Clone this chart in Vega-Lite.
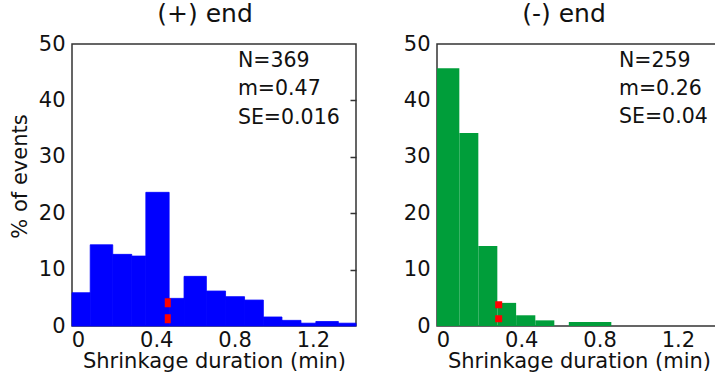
{
  "$schema": "https://vega.github.io/schema/vega-lite/v6.json",
  "background": "white",
  "padding": {"left": 8, "top": 1, "right": 0, "bottom": 0},
  "spacing": 44,
  "config": {
    "font": "DejaVu Sans",
    "view": {"stroke": "#333", "strokeWidth": 1.5},
    "axis": {"domain": false, "grid": false, "labelFontSize": 21, "labelColor": "#111", "titleFontSize": 21, "titleFontWeight": "normal", "titleColor": "#111", "tickColor": "#333", "tickWidth": 1.5},
    "title": {"fontSize": 25, "fontWeight": "normal", "color": "#111"}
  },
  "datasets": {
    "plus": [
      {"start": -0.03, "end": 0.063, "pct": 5.9},
      {"start": 0.063, "end": 0.178, "pct": 14.4},
      {"start": 0.178, "end": 0.275, "pct": 12.7},
      {"start": 0.275, "end": 0.347, "pct": 12.4},
      {"start": 0.347, "end": 0.466, "pct": 23.7},
      {"start": 0.466, "end": 0.542, "pct": 4.9},
      {"start": 0.542, "end": 0.656, "pct": 8.8},
      {"start": 0.656, "end": 0.754, "pct": 6.2},
      {"start": 0.754, "end": 0.851, "pct": 5.2},
      {"start": 0.851, "end": 0.947, "pct": 4.6},
      {"start": 0.947, "end": 1.042, "pct": 1.6},
      {"start": 1.042, "end": 1.139, "pct": 1.0},
      {"start": 1.139, "end": 1.215, "pct": 0.5},
      {"start": 1.215, "end": 1.33, "pct": 0.8},
      {"start": 1.33, "end": 1.42, "pct": 0.5}
    ],
    "minus": [
      {"start": -0.03, "end": 0.084, "pct": 45.7},
      {"start": 0.084, "end": 0.181, "pct": 34.2},
      {"start": 0.181, "end": 0.278, "pct": 14.2},
      {"start": 0.278, "end": 0.374, "pct": 4.1},
      {"start": 0.374, "end": 0.472, "pct": 1.9},
      {"start": 0.472, "end": 0.569, "pct": 1.0},
      {"start": 0.643, "end": 0.86, "pct": 0.7}
    ]
  },
  "hconcat": [
    {
      "width": 284,
      "height": 282,
      "title": {"text": "(+) end", "dx": -9, "offset": 6},
      "resolve": {"axis": {"y": "independent"}},
      "layer": [
        {
          "data": {"name": "plus"},
          "mark": {"type": "rect", "color": "#0000ff", "stroke": "#0000ff", "strokeWidth": 0.8},
          "encoding": {
            "x": {"field": "start", "type": "quantitative", "scale": {"domain": [-0.03, 1.42], "nice": false, "zero": false},
                  "axis": {"values": [0, 0.4, 0.8, 1.2], "format": "~g", "ticks": false, "labelPadding": 3, "title": "Shrinkage duration (min)", "titlePadding": 0}},
            "x2": {"field": "end"},
            "y": {"field": "pct", "type": "quantitative", "scale": {"domain": [0, 50], "nice": false},
                  "axis": {"values": [0, 10, 20, 30, 40, 50], "ticks": false, "labelPadding": 7, "title": "% of events", "titlePadding": 8, "titleY": 132}},
            "y2": {"datum": 0}
          }
        },
        {
          "data": {"values": [{"mean": 0.459, "top": 4.9, "bottom": 0.3}]},
          "mark": {"type": "rule", "color": "#ff0000", "strokeWidth": 6, "strokeDash": [9, 7]},
          "encoding": {
            "x": {"field": "mean", "type": "quantitative"},
            "y": {"field": "top", "type": "quantitative", "axis": {"orient": "right", "labels": false, "title": null, "ticks": true, "tickSize": -6, "values": [10, 20, 30, 40]}},
            "y2": {"field": "bottom"}
          }
        },
        {
          "data": {"values": [{}]},
          "mark": {"type": "text", "align": "left", "baseline": "alphabetic", "fontSize": 20.5, "lineHeight": 28.5, "color": "#111", "text": ["N=369", "m=0.47", "SE=0.016"]},
          "encoding": {"x": {"datum": 0.817}, "y": {"datum": 46, "axis": null}}
        }
      ]
    },
    {
      "width": 284,
      "height": 282,
      "title": {"text": "(-) end", "dx": -15, "offset": 6},
      "resolve": {"axis": {"y": "independent"}},
      "layer": [
        {
          "data": {"name": "minus"},
          "mark": {"type": "rect", "color": "#009e3a"},
          "encoding": {
            "x": {"field": "start", "type": "quantitative", "scale": {"domain": [-0.03, 1.42], "nice": false, "zero": false},
                  "axis": {"values": [0, 0.4, 0.8, 1.2], "format": "~g", "ticks": false, "labelPadding": 3, "title": "Shrinkage duration (min)", "titlePadding": 0}},
            "x2": {"field": "end"},
            "y": {"field": "pct", "type": "quantitative", "scale": {"domain": [0, 50], "nice": false},
                  "axis": {"values": [0, 10, 20, 30, 40, 50], "ticks": false, "labelPadding": 7, "title": null}},
            "y2": {"datum": 0}
          }
        },
        {
          "data": {"values": [{"mean": 0.285, "top": 4.4, "bottom": 0.4}]},
          "mark": {"type": "rule", "color": "#ff0000", "strokeWidth": 7, "strokeDash": [7, 7]},
          "encoding": {
            "x": {"field": "mean", "type": "quantitative"},
            "y": {"field": "top", "type": "quantitative", "axis": {"orient": "right", "labels": false, "title": null, "ticks": true, "tickSize": -6, "values": [10, 20, 30, 40]}},
            "y2": {"field": "bottom"}
          }
        },
        {
          "data": {"values": [{}]},
          "mark": {"type": "text", "align": "left", "baseline": "alphabetic", "fontSize": 20.5, "lineHeight": 28, "color": "#111", "text": ["N=259", "m=0.26", "SE=0.04"]},
          "encoding": {"x": {"datum": 0.899}, "y": {"datum": 46, "axis": null}}
        }
      ]
    }
  ]
}
